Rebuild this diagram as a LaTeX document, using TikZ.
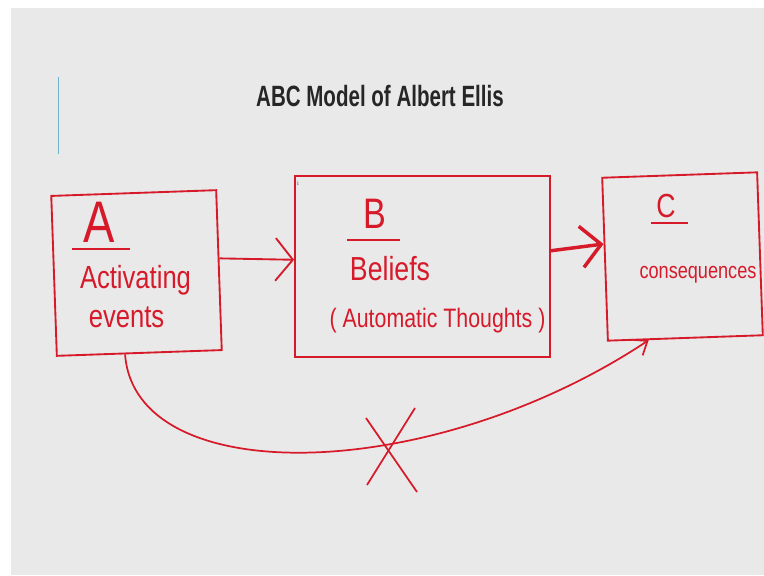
\documentclass[tikz,border=0pt]{standalone}
\usepackage{fontspec}
\usepackage{xcolor}
\usepackage{tikz}
\usetikzlibrary{arrows.meta,positioning,calc}
\newfontfamily\titlefont{Liberation Sans}[FakeStretch=0.7]
\newfontfamily\handfont{Liberation Sans}[FakeStretch=0.8]
\definecolor{ink}{RGB}{214,26,42}
\definecolor{slidebg}{RGB}{233,233,233}
\definecolor{accent}{RGB}{110,180,205}

\begin{document}
\begin{tikzpicture}[
    x=0.75pt, y=-0.75pt,
    box/.style={rectangle, draw=ink, line width=1.4pt, inner sep=0pt},
    hand/.style={text=ink, inner sep=0pt, anchor=base, font=\handfont},
    arrow/.style={-{Straight Barb[length=13pt, width=32pt]}, ink, line width=1.4pt},
    thickarrow/.style={-{Straight Barb[length=15pt, width=31pt]}, ink, line width=2.6pt},
    curvearrow/.style={-{Straight Barb[length=9pt, width=14pt]}, ink, line width=1.3pt}
]
    % slide background
    \fill[white] (0,0) rectangle (764,575);
    \fill[slidebg] (10.5,8) rectangle (764,575);
    \useasboundingbox (0,0) rectangle (764,575);
    \draw[accent, line width=1pt] (58.5,77) -- (58.5,154);
    \node[font=\titlefont\bfseries\fontsize{22}{24}\selectfont, text=black!85, anchor=base] (title) at (380,106) {ABC Model of Albert Ellis};

    % the three boxes
    \node[box, minimum width=123.75pt, minimum height=120pt, rotate=2] (a) at (136.5,273) {};
    \node[box, minimum width=191.25pt, minimum height=135.75pt] (b) at (422.5,266.5) {};
    \node[box, minimum width=116.25pt, minimum height=122.25pt, rotate=2] (c) at (682.5,256.5) {};

    \node[hand, font=\handfont\fontsize{44}{44}\selectfont] (la) at (99.5,242) {A};
    \draw[ink, line width=1.4pt] (72,249) -- (130,249);
    \node[hand, font=\handfont\fontsize{24}{26}\selectfont] (act) at (135.5,288) {Activating};
    \node[hand, font=\handfont\fontsize{24}{26}\selectfont] (ev) at (126.5,327) {events};

    \node[hand, font=\handfont\fontsize{32}{32}\selectfont] (lb) at (374.5,228) {B};
    \draw[ink, line width=1.4pt] (347,240) -- (400,240);
    \node[hand, font=\handfont\fontsize{25}{26}\selectfont] (bel) at (390,280) {Beliefs};
    \node[hand, font=\handfont\fontsize{20}{22}\selectfont] (auto) at (437.5,327) {( Automatic Thoughts )};
    \node[font=\fontsize{5}{5}\selectfont, text=black!60, inner sep=0pt] (cur) at (298,183) {i};

    \node[hand, font=\handfont\fontsize{25}{26}\selectfont] (lc) at (666,217) {C};
    \draw[ink, line width=1.4pt] (651,223) -- (688,223);
    \node[hand, font=\handfont\fontsize{17}{18}\selectfont] (con) at (698,278) {consequences};

    \draw[arrow] (a.8) -- (b.177);
    \draw[thickarrow] (b.7) -- (c.169);
    \draw[curvearrow] (a.-100) .. controls (135,490) and (430,485) .. (c.-114);

    % crossed out
    \coordinate (cut) at (388,452);
    \draw[ink, line width=1.3pt] (366,418) -- (417,492);
    \draw[ink, line width=1.3pt] (415,408) -- (367,485);
\end{tikzpicture}
\end{document}
